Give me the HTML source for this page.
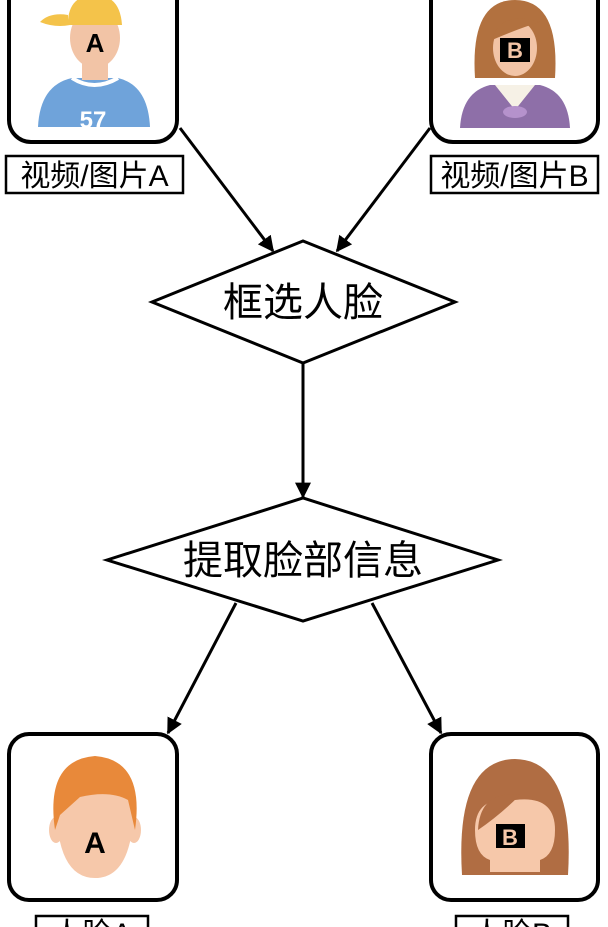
<!DOCTYPE html>
<html><head><meta charset="utf-8"><style>
body{margin:0;width:608px;height:927px;background:#fff;overflow:hidden}
svg{display:block}
text{font-family:"Liberation Sans","Noto Sans CJK SC",sans-serif}
</style></head><body>
<svg width="608" height="927" viewBox="0 0 608 927">
<defs>
<marker id="a2" viewBox="0 0 10 10" markerWidth="16" markerHeight="16" refX="9" refY="5" orient="auto" markerUnits="userSpaceOnUse"><path d="M0,0 L10,5 L0,10 z" fill="#000"/></marker></defs>
<rect x="9" y="-30" width="168" height="172" rx="22" fill="#fff" stroke="#000" stroke-width="4"/>
<rect x="431" y="-30" width="167" height="172" rx="22" fill="#fff" stroke="#000" stroke-width="4"/>
<path d="M38,127 Q40,85 72,78 L118,78 Q148,85 150,127 z" fill="#6fa3da"/>
<path d="M72,78 Q94,92 118,78" fill="none" stroke="#fff" stroke-width="4"/>
<rect x="82" y="55" width="26" height="25" fill="#f2c4a6"/>
<ellipse cx="95" cy="38" rx="25" ry="30" fill="#f2c4a6"/>
<path d="M68,20 Q70,-5 95,-5 Q120,-5 122,25 L70,25 Q55,28 40,22 Q50,12 68,15z" fill="#f4c34a"/>
<text x="95" y="52" font-size="26" font-weight="bold" text-anchor="middle">A</text>
<text x="93" y="128" font-size="24" font-weight="bold" fill="#fff" text-anchor="middle">57</text>
<path d="M460,128 Q462,92 490,85 L540,85 Q568,92 570,128 z" fill="#8e6fa8"/>
<path d="M495,85 L535,85 L515,110 z" fill="#f6f1e6"/>
<ellipse cx="515" cy="112" rx="12" ry="6" fill="#b592cc"/>
<path d="M475,78 Q470,0 515,0 Q560,0 555,78 z" fill="#b2713f"/>
<ellipse cx="515" cy="48" rx="22" ry="28" fill="#f2c4a6"/>
<path d="M492,40 Q500,10 540,22 Q520,28 492,40z" fill="#b2713f"/>
<rect x="500" y="38" width="30" height="24" fill="#000"/>
<text x="515" y="58" font-size="22" font-weight="bold" fill="#f2c4a6" text-anchor="middle">B</text>
<rect x="6" y="156" width="177" height="37" fill="#fff" stroke="#000" stroke-width="2.5"/>
<text x="94.5" y="186" font-size="30" text-anchor="middle">视频/图片A</text>
<rect x="431" y="156" width="167" height="37" fill="#fff" stroke="#000" stroke-width="2.5"/>
<text x="514.5" y="186" font-size="30" text-anchor="middle">视频/图片B</text>
<polygon points="152,302 303,241 455,302 303,363" fill="#fff" stroke="#000" stroke-width="3"/>
<text x="303" y="316" font-size="40" text-anchor="middle">框选人脸</text>
<polygon points="107,560 303,498 498,560 303,621" fill="#fff" stroke="#000" stroke-width="3"/>
<text x="303" y="574" font-size="40" text-anchor="middle">提取脸部信息</text>
<g stroke="#000" stroke-width="3" fill="none">
<line x1="180" y1="128" x2="273" y2="251" marker-end="url(#a2)"/>
<line x1="430" y1="128" x2="337" y2="251" marker-end="url(#a2)"/>
<line x1="303" y1="363" x2="303" y2="497" marker-end="url(#a2)"/>
<line x1="236" y1="603" x2="168" y2="733" marker-end="url(#a2)"/>
<line x1="372" y1="603" x2="441" y2="733" marker-end="url(#a2)"/>
</g>
<rect x="9" y="734" width="168" height="166" rx="20" fill="#fff" stroke="#000" stroke-width="4"/>
<rect x="431" y="734" width="167" height="166" rx="20" fill="#fff" stroke="#000" stroke-width="4"/>
<ellipse cx="56" cy="830" rx="7" ry="13" fill="#f6c8aa"/>
<ellipse cx="134" cy="830" rx="7" ry="13" fill="#f6c8aa"/>
<path d="M56,800 Q56,878 95,878 Q134,878 134,800 Q134,790 95,790 Q56,790 56,800z" fill="#f6c8aa"/>
<path d="M55,830 Q45,760 95,756 Q145,760 135,830 L128,800 Q110,790 80,797 L60,815z" fill="#e8893a"/>
<text x="95" y="853" font-size="30" font-weight="bold" text-anchor="middle">A</text>
<path d="M462,875 Q455,760 515,759 Q575,760 568,875 z" fill="#b06d43"/>
<path d="M475,830 Q475,795 515,800 Q555,795 555,830 Q555,855 540,860 L540,872 L490,872 L490,860 Q475,855 475,830z" fill="#f6c8aa"/>
<path d="M478,830 Q480,790 520,795 Q500,815 478,830z" fill="#b06d43"/>
<rect x="496" y="824" width="29" height="24" fill="#000"/>
<text x="510" y="845" font-size="22" font-weight="bold" fill="#f6c8aa" text-anchor="middle">B</text>
<rect x="36" y="916" width="112" height="30" fill="#fff" stroke="#000" stroke-width="2.5"/>
<text x="92" y="944" font-size="30" text-anchor="middle">人脸A</text>
<rect x="456" y="916" width="112" height="30" fill="#fff" stroke="#000" stroke-width="2.5"/>
<text x="512" y="944" font-size="30" text-anchor="middle">人脸B</text>
</svg>
</body></html>
